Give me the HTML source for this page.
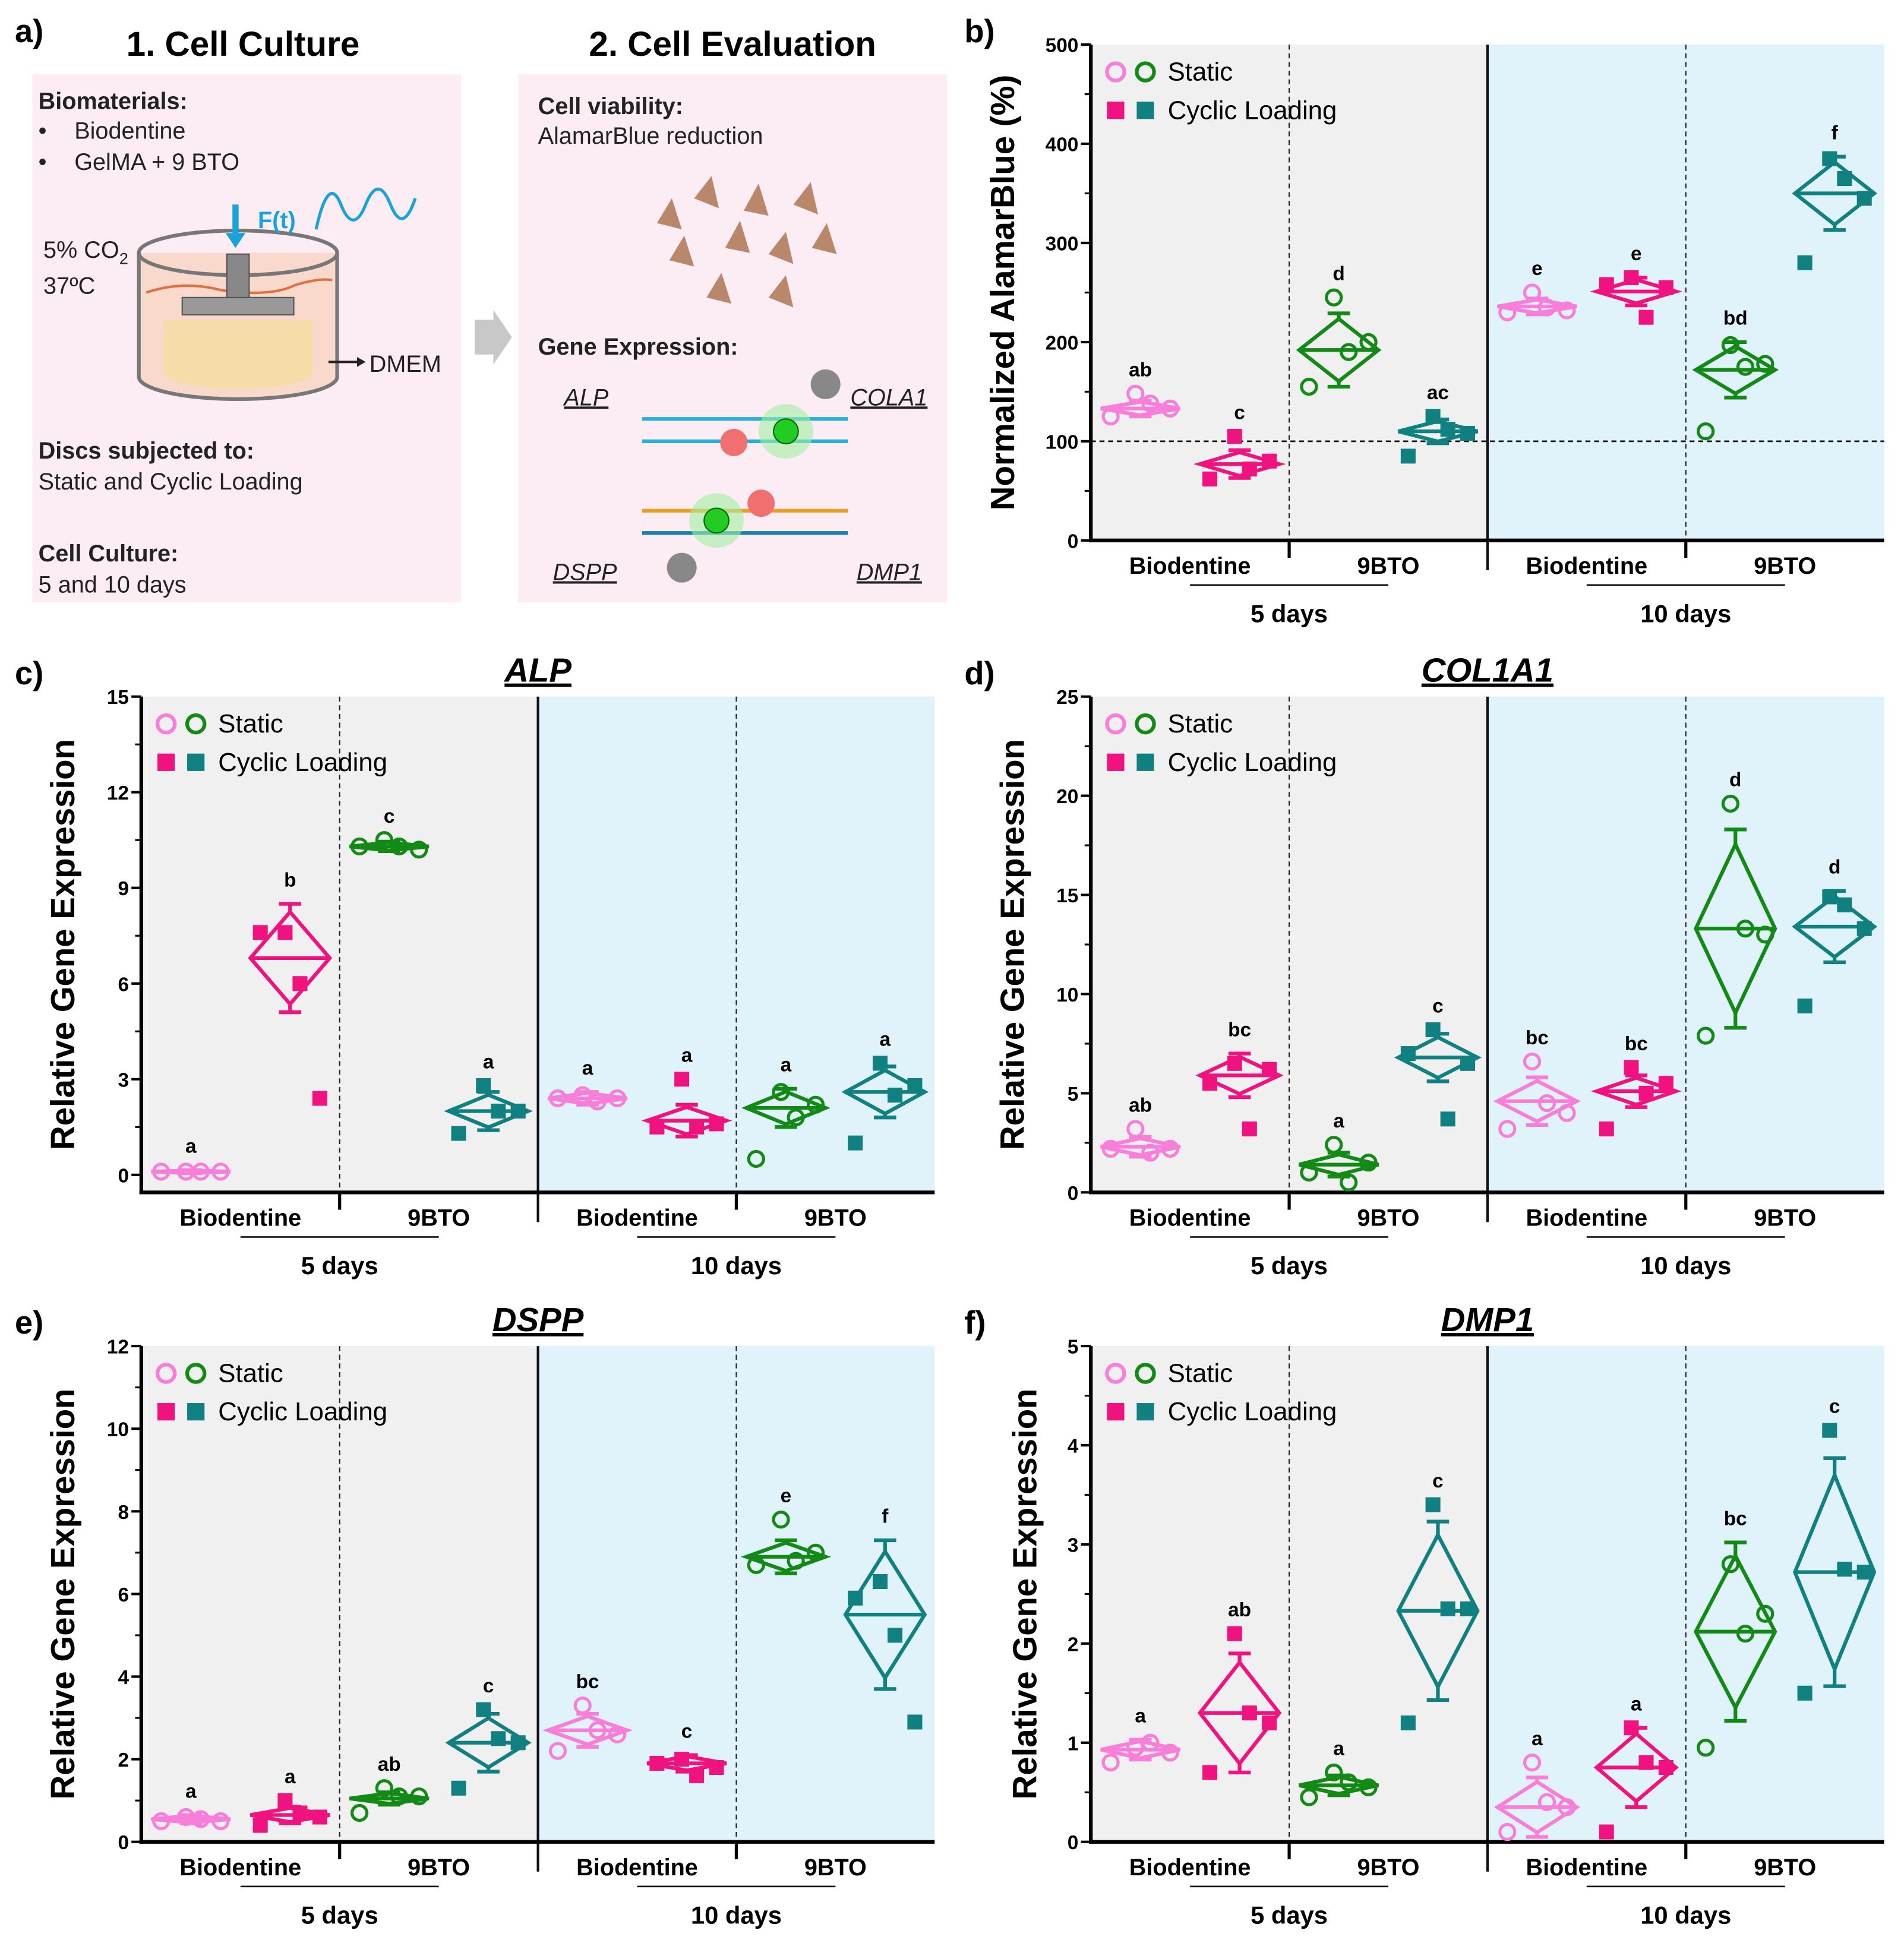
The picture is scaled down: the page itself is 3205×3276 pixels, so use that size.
<!DOCTYPE html>
<html><head><meta charset="utf-8">
<style>
html,body{margin:0;padding:0;background:#fff;}
svg{display:block;font-family:"Liberation Sans",sans-serif;}
</style></head>
<body>
<svg id="fig" width="3205" height="3276" viewBox="0 0 1536 1570" xmlns="http://www.w3.org/2000/svg">
<rect width="1536" height="1570" fill="#fff"/>
<g>
  <text x="12" y="34" font-size="26" font-weight="bold">a)</text>
  <text x="196" y="45" font-size="28" font-weight="bold" text-anchor="middle">1. Cell Culture</text>
  <text x="591" y="45" font-size="28" font-weight="bold" text-anchor="middle">2. Cell Evaluation</text>
  <rect x="26" y="60" width="346" height="426" fill="#fcecf4"/>
  <rect x="418" y="60" width="346" height="426" fill="#fcecf4"/>
  <g font-size="19" fill="#222">
    <text x="31" y="88" font-weight="bold">Biomaterials:</text>
    <text x="31" y="112">•</text><text x="60" y="112">Biodentine</text>
    <text x="31" y="137">•</text><text x="60" y="137">GelMA + 9 BTO</text>
    <text x="35" y="208">5% CO<tspan font-size="13" dy="5">2</tspan></text>
    <text x="35" y="237">37ºC</text>
    <text x="298" y="300">DMEM</text>
    <text x="31" y="370" font-weight="bold">Discs subjected to:</text>
    <text x="31" y="395">Static and Cyclic Loading</text>
    <text x="31" y="453" font-weight="bold">Cell Culture:</text>
    <text x="31" y="478">5 and 10 days</text>
    <text x="434" y="92" font-weight="bold">Cell viability:</text>
    <text x="434" y="116">AlamarBlue reduction</text>
    <text x="434" y="286" font-weight="bold">Gene Expression:</text>
    <g font-style="italic" text-decoration="underline">
      <text x="455" y="327">ALP</text><text x="686" y="327">COLA1</text>
      <text x="446" y="468">DSPP</text><text x="691" y="468">DMP1</text>
    </g>
  </g>
  <g>
    <path d="M112 204 L112 304 A80 18 0 0 0 272 304 L272 204" fill="#f8d9cc" stroke="#777" stroke-width="3"/>
    <path d="M118 236 q30 -10 60 -2 q40 6 60 -4 q20 -6 30 -4" fill="none" stroke="#e07040" stroke-width="2"/>
    <path d="M132 258 L132 300 A60 14 0 0 0 252 300 L252 258 Z" fill="#f5dca0" opacity="0.8"/>
    <ellipse cx="192" cy="204" rx="80" ry="18" fill="none" stroke="#777" stroke-width="3"/>
    <rect x="183" y="205" width="18" height="38" fill="#888" stroke="#555"/>
    <rect x="147" y="240" width="90" height="14" fill="#999" stroke="#555"/>
    <line x1="190" y1="165" x2="190" y2="192" stroke="#1aa3d8" stroke-width="5"/>
    <path d="M182 188 L190 200 L198 188 Z" fill="#1aa3d8"/>
    <text x="208" y="184" font-size="19" font-weight="bold" fill="#1aa3d8">F(t)</text>
    <path d="M255 185 q10 -45 20 -20 t20 0 t20 0 t20 -5" fill="none" stroke="#1aa3d8" stroke-width="2.5"/>
    <line x1="265" y1="292" x2="292" y2="292" stroke="#222" stroke-width="2"/>
    <path d="M288 288 L295 292 L288 296Z" fill="#222"/>
  </g>
  <path d="M383 258 L398 258 L398 250 L413 272 L398 294 L398 286 L383 286 Z" fill="#c8c8c8"/>
  <g fill="#b9876a">
    <path d="M530 180 l12 -20 l8 25 z"/><path d="M560 160 l14 -18 l6 26 z"/><path d="M600 170 l12 -22 l8 26 z"/>
    <path d="M640 165 l14 -18 l6 26 z"/><path d="M540 210 l12 -20 l8 25 z"/><path d="M585 200 l12 -22 l8 26 z"/>
    <path d="M620 205 l14 -18 l6 26 z"/><path d="M655 200 l12 -20 l8 25 z"/><path d="M570 240 l12 -20 l8 25 z"/><path d="M620 240 l14 -18 l6 26 z"/>
  </g>
  <g>
    <line x1="518" y1="338" x2="684" y2="338" stroke="#2ab0d8" stroke-width="3"/>
    <line x1="518" y1="356" x2="684" y2="356" stroke="#2ab0d8" stroke-width="3"/>
    <line x1="518" y1="412" x2="684" y2="412" stroke="#e8a020" stroke-width="3"/>
    <line x1="518" y1="430" x2="684" y2="430" stroke="#1a80b0" stroke-width="3"/>
    <circle cx="634" cy="348" r="22" fill="#a0f0a0" opacity="0.6"/><circle cx="634" cy="348" r="10" fill="#22cc22" stroke="#006600"/>
    <circle cx="578" cy="420" r="22" fill="#a0f0a0" opacity="0.6"/><circle cx="578" cy="420" r="10" fill="#22cc22" stroke="#006600"/>
    <circle cx="592" cy="357" r="11" fill="#f07070"/><circle cx="614" cy="406" r="11" fill="#f07070"/>
    <circle cx="666" cy="310" r="12" fill="#888"/><circle cx="550" cy="458" r="12" fill="#888"/>
  </g>
</g>
<g id="charts"></g>
</svg>
<script>
const categories = ["Biodentine","9BTO","Biodentine","9BTO"];
const dayLabels = ["5 days","10 days"];

const bMeans = [133, 77, 192, 110, 236, 251, 172, 350];
const bSds = [8, 14, 37, 12, 8, 14, 28, 37];
const bPoints = [[148,125,138,133],[105,62,72,80],[245,155,190,200],[125,85,112,108],[250,230,235,232],[265,258,225,255],[197,110,175,178],[385,280,365,345]];
const bLetters = ["ab","c","d","ac","e","e","bd","f"];
const bTicks = [0,100,200,300,400,500];

const cMeans = [0.1, 6.8, 10.3, 2.0, 2.4, 1.7, 2.1, 2.6];
const cSds = [0.05, 1.7, 0.15, 0.6, 0.2, 0.5, 0.6, 0.8];
const cPoints = [[0.1,0.1,0.1,0.1],[7.6,7.6,6.0,2.4],[10.5,10.3,10.3,10.2],[2.8,1.3,2.0,2.0],[2.5,2.4,2.3,2.4],[3.0,1.5,1.5,1.6],[2.6,0.5,1.8,2.2],[3.5,1.0,2.5,2.8]];
const cLetters = ["a","b","c","a","a","a","a","a"];
const cTicks = [0,3,6,9,12,15];

const dMeans = [2.3, 5.9, 1.4, 6.8, 4.6, 5.1, 13.3, 13.4];
const dSds = [0.5, 1.1, 0.6, 1.2, 1.2, 0.8, 5.0, 1.8];
const dPoints = [[3.2,2.2,2.0,2.2],[6.5,5.5,3.2,6.2],[2.4,1.0,0.5,1.5],[8.2,7.0,3.7,6.5],[6.6,3.2,4.5,4.0],[6.3,3.2,5.0,5.5],[19.6,7.9,13.3,13.0],[14.9,9.4,14.5,13.3]];
const dLetters = ["ab","bc","a","c","bc","bc","d","d"];
const dTicks = [0,5,10,15,20,25];

const eMeans = [0.55, 0.65, 1.05, 2.4, 2.7, 1.9, 6.9, 5.5];
const eSds = [0.1, 0.2, 0.15, 0.7, 0.4, 0.2, 0.4, 1.8];
const ePoints = [[0.6,0.5,0.55,0.5],[1.0,0.4,0.7,0.6],[1.3,0.7,1.1,1.1],[3.2,1.3,2.5,2.4],[3.3,2.2,2.7,2.6],[2.0,1.9,1.6,1.8],[7.8,6.7,6.8,7.0],[6.3,5.9,5.0,2.9]];
const eLetters = ["a","a","ab","c","bc","c","e","f"];
const eTicks = [0,2,4,6,8,10,12];

const fMeans = [0.93, 1.3, 0.57, 2.33, 0.35, 0.75, 2.12, 2.72];
const fSds = [0.1, 0.6, 0.1, 0.9, 0.3, 0.4, 0.9, 1.15];
const fPoints = [[0.95,0.8,1.0,0.9],[2.1,0.7,1.3,1.2],[0.7,0.45,0.6,0.55],[3.4,1.2,2.35,2.35],[0.8,0.1,0.4,0.35],[1.15,0.1,0.8,0.75],[2.8,0.95,2.1,2.3],[4.15,1.5,2.75,2.72]];
const fLetters = ["a","ab","a","c","a","a","bc","c"];
const fTicks = [0,1,2,3,4,5];

const NS = "http://www.w3.org/2000/svg";
const root = document.getElementById("charts");
const colors = ["#f77fd9","#f0127e","#138a16","#118080"];
const offs = [-4,-24,8,24];
function mk(tag, attrs, parent, text){
  const e = document.createElementNS(NS, tag);
  for (const k in attrs) e.setAttribute(k, attrs[k]);
  if (text !== undefined) e.textContent = text;
  (parent||root).appendChild(e);
  return e;
}
function drawPanel(cfg, means, sds, points, letters, ticks){
  const g = mk("g", {});
  
  
  const {x0,x1,yTop,yBot,ymin,ymax} = cfg;
  const w = x1-x0;
  const ys = v => yBot - (v-ymin)/(ymax-ymin)*(yBot-yTop);
  const xs = i => x0 + (i+0.5)*w/8;
  const xm = x0 + w/2;
  const bg1 = mk("rect",{x:x0,y:yTop,width:w/2,height:yBot-yTop,fill:"#f0f0f0"},g);
  
  
  const bg2 = mk("rect",{x:xm,y:yTop,width:w/2,height:yBot-yTop,fill:"#e0f3fa"},g);
  
  
  mk("line",{x1:x0+w/4,y1:yTop,x2:x0+w/4,y2:yBot,stroke:"#222","stroke-width":1,"stroke-dasharray":"4,3"},g);
  mk("line",{x1:x0+3*w/4,y1:yTop,x2:x0+3*w/4,y2:yBot,stroke:"#222","stroke-width":1,"stroke-dasharray":"4,3"},g);
  mk("line",{x1:xm,y1:yTop,x2:xm,y2:yBot+24,stroke:"#111","stroke-width":2},g);
  if (cfg.refLine !== undefined){
    const rl = mk("line",{x1:x0,y1:ys(cfg.refLine),x2:x1,y2:ys(cfg.refLine),stroke:"#111","stroke-width":1.3,"stroke-dasharray":"4,3"},g);
    
    
  }
  const ya = mk("line",{x1:x0,y1:yTop,x2:x0,y2:yBot+1.5,stroke:"#000","stroke-width":3},g);
  
  
  const xa = mk("line",{x1:x0-1.5,y1:yBot,x2:x1,y2:yBot,stroke:"#000","stroke-width":3},g);
  
  
  [x0+w/4, x0+3*w/4].forEach(x=>mk("line",{x1:x,y1:yBot,x2:x,y2:yBot+14,stroke:"#000","stroke-width":2.5},g));
  ticks.forEach((t,k)=>{
    const y = ys(t);
    mk("line",{x1:x0-8,y1:y,x2:x0,y2:y,stroke:"#000","stroke-width":2},g);
    if (k < ticks.length-1){ const ym = ys((t+ticks[k+1])/2); mk("line",{x1:x0-5,y1:ym,x2:x0,y2:ym,stroke:"#000","stroke-width":1.5},g); }
    const tl = mk("text",{x:x0-10,y:y+6,"font-size":16,"font-weight":"bold","text-anchor":"end"},g,String(t));
    
    
  });
  const yt = mk("text",{x:0,y:0,"font-size":27,"font-weight":"bold","text-anchor":"middle",transform:`translate(${cfg.titleX},${(yTop+yBot)/2}) rotate(-90)`},g,cfg.yTitle);
  
  
  categories.forEach((c,k)=>{
    const cl = mk("text",{x:x0+(k+0.5)*w/4,y:yBot+27,"font-size":19,"font-weight":"bold","text-anchor":"middle"},g,c);
    
    
  });
  dayLabels.forEach((d,k)=>{
    const cx = x0 + (k*2+1)*w/4;
    mk("line",{x1:cx-80,y1:yBot+36,x2:cx+80,y2:yBot+36,stroke:"#111","stroke-width":1.3},g);
    const dl = mk("text",{x:cx,y:yBot+66,"font-size":20,"font-weight":"bold","text-anchor":"middle"},g,d);
    
    
  });
  means.forEach((m,i)=>{
    const col = colors[i%4], cx = xs(i), sd = sds[i], dd = sd*0.85;
    const gg = mk("g",{},g);
    
    
    mk("line",{x1:cx,y1:ys(m-sd),x2:cx,y2:ys(m-dd),stroke:col,"stroke-width":3},gg);
    mk("line",{x1:cx,y1:ys(m+dd),x2:cx,y2:ys(m+sd),stroke:col,"stroke-width":3},gg);
    mk("line",{x1:cx-9,y1:ys(m-sd),x2:cx+9,y2:ys(m-sd),stroke:col,"stroke-width":3},gg);
    mk("line",{x1:cx-9,y1:ys(m+sd),x2:cx+9,y2:ys(m+sd),stroke:col,"stroke-width":3},gg);
    const dia = mk("polygon",{points:`${cx-32},${ys(m)} ${cx},${ys(m+dd)} ${cx+32},${ys(m)} ${cx},${ys(m-dd)}`,fill:"none",stroke:col,"stroke-width":3},gg);
    
    
    mk("line",{x1:cx-32,y1:ys(m),x2:cx+32,y2:ys(m),stroke:col,"stroke-width":3},gg);
    const statc = (i%4===0||i%4===2);
    points[i].forEach((p,j)=>{
      const px = cx + offs[j%4], py = ys(p);
      let pt;
      if (statc) pt = mk("circle",{cx:px,cy:py,r:6,fill:"none",stroke:col,"stroke-width":2.5},gg);
      else pt = mk("rect",{x:px-6,y:py-6,width:12,height:12,fill:col},gg);
      
      
    });
    const top = Math.max(m+sd, Math.max(...points[i]));
    const lt = mk("text",{x:cx,y:ys(top)-14,"font-size":16,"font-weight":"bold","text-anchor":"middle"},gg,letters[i]);
    
    
  });
  const lg = mk("g",{},g);
  
  
  const lx = x0+20, ly = yTop+22;
  mk("circle",{cx:lx,cy:ly,r:7,fill:"none",stroke:colors[0],"stroke-width":3},lg);
  mk("circle",{cx:lx+24,cy:ly,r:7,fill:"none",stroke:colors[2],"stroke-width":3},lg);
  mk("text",{x:lx+42,y:ly+7,"font-size":21},lg,"Static");
  mk("rect",{x:lx-7,y:ly+24,width:14,height:14,fill:colors[1]},lg);
  mk("rect",{x:lx+17,y:ly+24,width:14,height:14,fill:colors[3]},lg);
  mk("text",{x:lx+42,y:ly+38,"font-size":21},lg,"Cyclic Loading");
  const pl = mk("text",{x:cfg.labelX,y:cfg.labelY,"font-size":26,"font-weight":"bold"},g,cfg.label);
  
  
  if (cfg.gene){
    const gt = mk("text",{x:xm,y:yTop-12,"font-size":27,"font-weight":"bold","font-style":"italic","text-anchor":"middle","text-decoration":"underline"},g,cfg.gene);
    
    
  }
}
drawPanel({name:"panel-b-alamarblue",x0:880,x1:1520,yTop:36,yBot:436,ymin:0,ymax:500,titleX:818,yTitle:"Normalized AlamarBlue (%)",refLine:100,label:"b)",labelX:778,labelY:34}, bMeans,bSds,bPoints,bLetters,bTicks);
drawPanel({name:"panel-c-alp",x0:114,x1:754,yTop:562,yBot:962,ymin:-0.55,ymax:15,titleX:60,yTitle:"Relative Gene Expression",label:"c)",labelX:12,labelY:552,gene:"ALP"}, cMeans,cSds,cPoints,cLetters,cTicks);
drawPanel({name:"panel-d-col1a1",x0:880,x1:1520,yTop:562,yBot:962,ymin:0,ymax:25,titleX:826,yTitle:"Relative Gene Expression",label:"d)",labelX:778,labelY:552,gene:"COL1A1"}, dMeans,dSds,dPoints,dLetters,dTicks);
drawPanel({name:"panel-e-dspp",x0:114,x1:754,yTop:1086,yBot:1486,ymin:0,ymax:12,titleX:60,yTitle:"Relative Gene Expression",label:"e)",labelX:12,labelY:1076,gene:"DSPP"}, eMeans,eSds,ePoints,eLetters,eTicks);
drawPanel({name:"panel-f-dmp1",x0:880,x1:1520,yTop:1086,yBot:1486,ymin:0,ymax:5,titleX:836,yTitle:"Relative Gene Expression",label:"f)",labelX:778,labelY:1076,gene:"DMP1"}, fMeans,fSds,fPoints,fLetters,fTicks);
</script>
</body></html>
